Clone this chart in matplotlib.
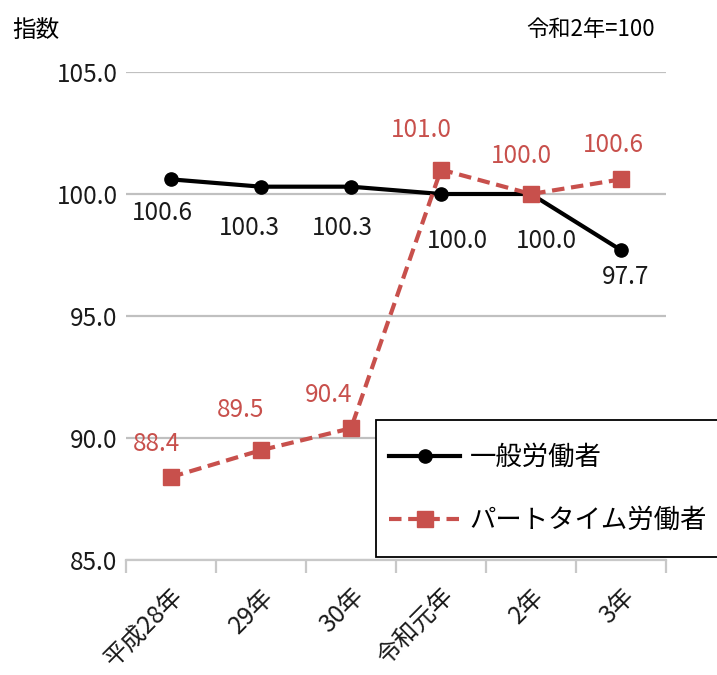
import matplotlib
matplotlib.use('Agg')
import matplotlib.pyplot as plt
from matplotlib.patches import Rectangle

plt.rcParams['font.family'] = ['Noto Sans CJK JP', 'DejaVu Sans']

years = ['平成28年', '29年', '30年', '令和元年', '2年', '3年']
general = [100.6, 100.3, 100.3, 100.0, 100.0, 97.7]
parttime = [88.4, 89.5, 90.4, 101.0, 100.0, 100.6]
yticks = [85.0, 90.0, 95.0, 100.0, 105.0]

# label offsets in pixels (dx, dy)
gen_off = [(-9, -34), (-12, -41), (-9, -41), (16, -47), (15, -47), (5, -27)]
pt_off = [(-14, 33), (-20, 40), (-22, 33), (-20, 40), (-10, 38), (-8, 34)]

red = '#C8504C'
txt = '#1A1A1A'

fig = plt.figure(figsize=(7.17, 6.75), dpi=100)
ax = fig.add_axes([126/717, 1-560/675, 540/717, 488/675])

xs = range(len(years))
ax.plot(xs, general, color='black', lw=3, marker='o', ms=9.5, label='一般労働者', zorder=3)
ax.plot(xs, parttime, color=red, lw=3, ls=(0, (3, 1.6)), marker='s', ms=12,
        label='パートタイム労働者', zorder=3)

for ii in xs:
    dx, dy = gen_off[ii]
    ax.annotate('%.1f' % general[ii], (ii, general[ii]), xytext=(dx*0.72, dy*0.72),
                textcoords='offset points', ha='center', va='center', fontsize=17.5, color=txt)
    dx, dy = pt_off[ii]
    ax.annotate('%.1f' % parttime[ii], (ii, parttime[ii]), xytext=(dx*0.72, dy*0.72),
                textcoords='offset points', ha='center', va='center', fontsize=17.5, color=red)

ax.set_xlim(-0.5, len(years) - 0.5)
ax.set_ylim(85, 105)
ax.set_yticks(yticks)
ax.set_yticklabels(['%.1f' % v for v in yticks], fontsize=17.5, color=txt)
ax.yaxis.grid(True, color='#C0C0C0', lw=1.6)
ax.set_axisbelow(True)
ax.tick_params(axis='y', length=0, pad=6)

ax.set_xticks([x - 0.5 for x in range(len(years) + 1)], minor=False)
ax.set_xticklabels([])
ax.set_xticks(list(xs), minor=True)
ax.set_xticklabels(years, minor=True, rotation=45, ha='right', rotation_mode='anchor',
                   fontsize=17.5, color=txt)
ax.tick_params(axis='x', which='major', length=9, color='#C8C8C8', width=1.6)
ax.tick_params(axis='x', which='minor', length=0, pad=17)

for s in ['left', 'right', 'top']:
    ax.spines[s].set_visible(False)
ax.spines['bottom'].set_color('#C8C8C8')
ax.spines['bottom'].set_linewidth(1.6)

# legend box runs off the right edge of the figure
box = Rectangle((376/717, 1-557/675), 360/717, 137/675, transform=fig.transFigure,
                facecolor='white', edgecolor='black', lw=1.3, zorder=5, clip_on=False)
ax.add_patch(box)
leg = ax.legend(loc='center left', bbox_to_anchor=(389/717, 1-489/675), bbox_transform=fig.transFigure,
                fontsize=19, frameon=False, handlelength=2.7, labelspacing=1.35,
                borderpad=0, borderaxespad=0, handletextpad=0.35)
leg.set_zorder(6)

fig.text(12/717, 1-30/675, '指数', fontsize=17, ha='left', va='center')
fig.text(655/717, 1-30/675, '令和2年=100', fontsize=16, ha='right', va='center')

fig.savefig('out.png', dpi=100)
